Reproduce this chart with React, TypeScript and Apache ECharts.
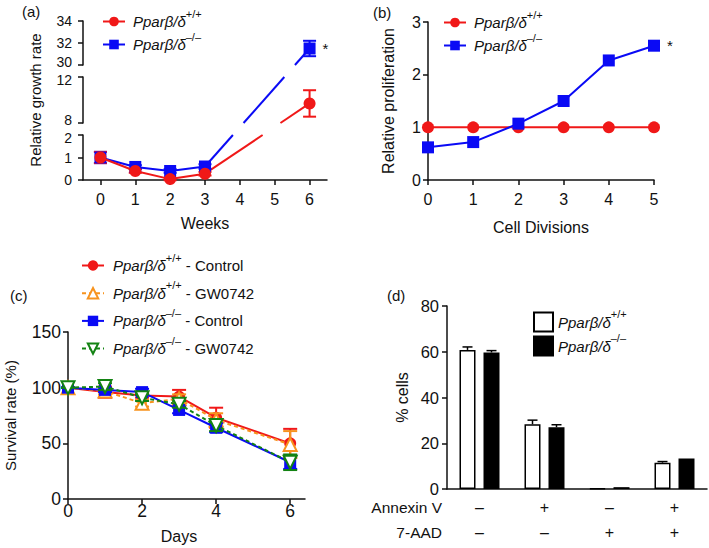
import React, { useEffect, useRef } from 'react';
import * as echarts from 'echarts';

// ---------- data ----------
// (a) relative growth rate, broken y axis
const weeksA = [0, 1, 2, 3, 6];
const weekTicks = [0, 1, 2, 3, 4, 5, 6];
const growthWT = [1.0, 0.4, 0.04, 0.28, 9.7];
const growthWTErr = [0.25, 0.08, 0.05, 0.08, 1.15];
const growthKO = [1.0, 0.58, 0.4, 0.6, 31.5];
const growthKOErr = [0.25, 0.08, 0.08, 0.1, 0.7];
const segMin = [30, 8, 0];
const segMax = [34, 12, 2];
const segInterval = [2, 4, 1];
const starIndexA = 4;

// (b) relative proliferation
const divisions = [0, 1, 2, 3, 4, 5];
const prolifWT = [1, 1, 1, 1, 1, 1];
const prolifKO = [0.62, 0.72, 1.07, 1.5, 2.27, 2.55];
const starIndexB = 5;

// (c) survival rate
const days = [0, 1, 2, 3, 4, 6];
const dayTicks = [0, 2, 4, 6];
const survWTCtrl = [100, 96, 93, 92, 73, 50];
const survWTCtrlErr = [0, 5, 2, 6, 9, 13];
const survWTGW = [100, 97, 86, 90, 71, 49];
const survWTGWErr = [0, 3, 3, 4, 6, 12];
const survKOCtrl = [100, 98, 96, 80, 64, 33];
const survKOCtrlErr = [0, 2, 3, 3, 4, 6];
const survKOGW = [100, 101, 91, 85, 66, 33];
const survKOGWErr = [0, 3, 3, 3, 5, 7];

// (d) % cells
const annexinSigns = ['–', '+', '–', '+'];
const aadSigns = ['–', '–', '+', '+'];
const rowLabels = ['Annexin V', '7-AAD'];
const pctWT = [60.8, 28.3, 0.3, 11.5];
const pctWTErr = [1.3, 1.8, 0, 0.5];
const pctKO = [59.7, 27.0, 0.8, 13.3];
const pctKOErr = [0.8, 1.1, 0, 0];

const panelLabels = ['(a)', '(b)', '(c)', '(d)'];
const axisTitles = {
  a: 'Relative growth rate', ax: 'Weeks',
  b: 'Relative proliferation', bx: 'Cell Divisions',
  c: 'Survival rate (%)', cx: 'Days',
  d: '% cells',
};

// ---------- style ----------
const FONT = "'Liberation Sans', Arial, Helvetica, sans-serif";
const INK = '#111';
const RED = '#f01818';
const BLUE = '#0a0af5';
const ORANGE = '#f7931e';
const GREEN = '#138313';

const BAR_W = 16;
const BAR_GAP = 8;

const legendText: Record<string, string> = {
  wt: '{i|Pparβ/δ}{s|+/+}',
  ko: '{i|Pparβ/δ}{s|–/–}',
  wtC: '{i|Pparβ/δ}{s|+/+}{n| - Control}',
  wtG: '{i|Pparβ/δ}{s|+/+}{n| - GW0742}',
  koC: '{i|Pparβ/δ}{s|–/–}{n| - Control}',
  koG: '{i|Pparβ/δ}{s|–/–}{n| - GW0742}',
  wtB: '{i|Pparβ/δ}{s|+/+}',
  koB: '{i|Pparβ/δ}{s|–/–}',
};

const rich = {
  i: { fontFamily: FONT, fontStyle: 'italic', fontSize: 15, color: INK, lineHeight: 18 },
  s: { fontFamily: FONT, fontSize: 11, color: INK, lineHeight: 10, padding: [0, 0, 16, 0] },
  n: { fontFamily: FONT, fontSize: 15, color: INK, lineHeight: 18 },
};

function segOf(v: number) {
  for (let g = 0; g < segMin.length; g++) if (v >= segMin[g] && v <= segMax[g]) return g;
  return -1;
}

function makeErrRender(color: string, capW: number, lw: number, both: boolean, dx = 0) {
  return (_p: any, api: any) => {
    const x = api.value(0);
    const a = api.coord([x, api.value(1)]);
    const b = api.coord([x, api.value(2)]);
    const px = a[0] + dx;
    const style = { stroke: color, lineWidth: lw, fill: null };
    const children: any[] = [
      { type: 'line', shape: { x1: px, y1: a[1], x2: px, y2: b[1] }, style },
      { type: 'line', shape: { x1: px - capW / 2, y1: b[1], x2: px + capW / 2, y2: b[1] }, style },
    ];
    if (both) children.push({ type: 'line', shape: { x1: px - capW / 2, y1: a[1], x2: px + capW / 2, y2: a[1] }, style });
    return { type: 'group', children };
  };
}

const axLine = { show: true, onZero: false, lineStyle: { color: INK, width: 1.5 } };
const axTick = { show: true, inside: false, length: 5, lineStyle: { color: INK, width: 1.5 } };

function lab(size: number, margin: number, extra: any = {}) {
  return { color: INK, fontSize: size, fontFamily: FONT, margin, ...extra };
}
function nameStyle(size: number, extra: any = {}) {
  return { color: INK, fontSize: size, fontFamily: FONT, ...extra };
}

function legend(data: string[], left: number, top: number, itemGap: number, iw: number, ih: number, pad: number, extra: any = {}) {
  return {
    data, left, top, orient: 'vertical', itemGap, itemWidth: iw, itemHeight: ih,
    selectedMode: false, padding: 0,
    formatter: (n: string) => legendText[n],
    textStyle: { rich, padding: [0, 0, 0, pad], color: INK },
    ...extra,
  };
}

// broken-axis labels: nudge the segment-end labels apart so they do not collide
const segLabelRich = {
  lo: { fontFamily: FONT, fontSize: 14, color: INK, lineHeight: 10, padding: [0, 0, 6, 0] },
  hi: { fontFamily: FONT, fontSize: 14, color: INK, lineHeight: 10, padding: [6, 0, 0, 0] },
  m: { fontFamily: FONT, fontSize: 14, color: INK, lineHeight: 10 },
};

function buildOption() {
  const grid: any[] = [
    { left: 83, top: 21, width: 244, height: 44 },
    { left: 83, top: 77, width: 244, height: 46 },
    { left: 83, top: 135, width: 244, height: 45 },
    { left: 428, top: 22, width: 226, height: 158 },
    { left: 68, top: 332, width: 237, height: 167 },
    { left: 447, top: 306, width: 260, height: 183 },
  ].map((g) => ({ ...g, containLabel: false, outerBoundsMode: 'none' }));

  const xAxis: any[] = [];
  const yAxis: any[] = [];
  for (let g = 0; g < 3; g++) {
    xAxis.push({
      type: 'value', gridIndex: g, min: -0.5, max: 6.5, show: g === 2,
      axisLine: axLine, axisTick: { ...axTick, customValues: weekTicks },
      axisLabel: lab(16, 11, { customValues: weekTicks }), splitLine: { show: false },
      name: g === 2 ? axisTitles.ax : '', nameLocation: 'middle', nameGap: 35, nameMoveOverlap: false,
      nameTextStyle: nameStyle(16),
    });
    const hasBelow = g < 2;
    const hasAbove = g > 0;
    yAxis.push({
      type: 'value', gridIndex: g, min: segMin[g], max: segMax[g], interval: segInterval[g],
      axisLine: axLine, axisTick: axTick,
      axisLabel: lab(14, 11, {
        rich: segLabelRich,
        formatter: (v: number) => {
          if (v === segMin[g] && hasBelow) return `{lo|${v}}`;
          if (v === segMax[g] && hasAbove) return `{hi|${v}}`;
          return `{m|${v}}`;
        },
      }),
      splitLine: { show: false },
      name: g === 1 ? axisTitles.a : '', nameLocation: 'middle', nameGap: 40, nameMoveOverlap: false,
      nameTextStyle: nameStyle(15),
    });
  }
  // (b)
  xAxis.push({
    type: 'value', gridIndex: 3, min: 0, max: 5, interval: 1,
    axisLine: axLine, axisTick: axTick, axisLabel: lab(16, 11), splitLine: { show: false },
    name: axisTitles.bx, nameLocation: 'middle', nameGap: 39, nameMoveOverlap: false, nameTextStyle: nameStyle(16),
  });
  yAxis.push({
    type: 'value', gridIndex: 3, min: 0, max: 3, interval: 1,
    axisLine: axLine, axisTick: axTick, axisLabel: lab(16, 7), splitLine: { show: false },
    name: axisTitles.b, nameLocation: 'middle', nameGap: 32, nameMoveOverlap: false, nameTextStyle: nameStyle(16),
  });
  // (c)
  xAxis.push({
    type: 'value', gridIndex: 4, min: 0, max: 6.4,
    axisLine: axLine, axisTick: { ...axTick, customValues: dayTicks },
    axisLabel: lab(17.5, 3, { customValues: dayTicks }), splitLine: { show: false },
    name: axisTitles.cx, nameLocation: 'middle', nameGap: 29, nameMoveOverlap: false,
    nameTextStyle: nameStyle(16, { padding: [0, 15, 0, 0] }),
  });
  yAxis.push({
    type: 'value', gridIndex: 4, min: 0, max: 150, interval: 50,
    axisLine: axLine, axisTick: axTick, axisLabel: lab(17.5, 7), splitLine: { show: false },
    name: axisTitles.c, nameLocation: 'middle', nameGap: 50, nameMoveOverlap: false, nameTextStyle: nameStyle(15),
  });
  // (d)
  xAxis.push({
    type: 'category', gridIndex: 5, data: annexinSigns.map((a, i) => a + '\n' + aadSigns[i]),
    axisLine: axLine, axisTick: { show: false }, axisLabel: lab(16, 6, { lineHeight: 25 }), splitLine: { show: false },
  });
  yAxis.push({
    type: 'value', gridIndex: 5, min: 0, max: 80, interval: 20,
    axisLine: axLine, axisTick: axTick, axisLabel: lab(16.5, 8), splitLine: { show: false },
    name: axisTitles.d, nameLocation: 'middle', nameGap: 37, nameMoveOverlap: false, nameTextStyle: nameStyle(16),
  });

  const series: any[] = [];
  // (a) errors first
  for (let g = 0; g < 3; g++) {
    const mk = (vals: number[], errs: number[]) =>
      weeksA.map((w, i) => [w, vals[i] - errs[i], vals[i] + errs[i], vals[i]]).filter((d) => segOf(d[3]) === g);
    series.push({ type: 'custom', name: 'errAko' + g, xAxisIndex: g, yAxisIndex: g, renderItem: makeErrRender(BLUE, 13, 2, true), data: mk(growthKO, growthKOErr), encode: { x: 0, y: [1, 2] }, z: 2 });
    series.push({ type: 'custom', name: 'errAwt' + g, xAxisIndex: g, yAxisIndex: g, renderItem: makeErrRender(RED, 13, 2, true), data: mk(growthWT, growthWTErr), encode: { x: 0, y: [1, 2] }, z: 2 });
  }
  for (let g = 0; g < 3; g++) {
    const mk = (vals: number[], star: boolean) =>
      weeksA.map((w, i) => {
        if (segOf(vals[i]) !== g) return [w, '-'];
        if (star && i === starIndexA)
          return { value: [w, vals[i]], label: { show: true, formatter: '*', position: 'right', distance: 7, color: INK, fontSize: 15, fontFamily: FONT } };
        return [w, vals[i]];
      });
    series.push({
      type: 'line', name: 'ko', xAxisIndex: g, yAxisIndex: g, data: mk(growthKO, true),
      symbol: 'rect', symbolSize: 12, showAllSymbol: true, connectNulls: false,
      itemStyle: { color: BLUE }, lineStyle: { color: BLUE, width: 2 }, z: 3,
    });
    series.push({
      type: 'line', name: 'wt', xAxisIndex: g, yAxisIndex: g, data: mk(growthWT, false),
      symbol: 'circle', symbolSize: 12, showAllSymbol: true, connectNulls: false,
      itemStyle: { color: RED }, lineStyle: { color: RED, width: 2 }, z: 4,
    });
  }
  // (b)
  series.push({
    type: 'line', name: 'wt', xAxisIndex: 3, yAxisIndex: 3, data: divisions.map((d, i) => [d, prolifWT[i]]),
    symbol: 'circle', symbolSize: 12, itemStyle: { color: RED }, lineStyle: { color: RED, width: 2 }, z: 3,
  });
  series.push({
    type: 'line', name: 'ko', xAxisIndex: 3, yAxisIndex: 3,
    data: divisions.map((d, i) =>
      i === starIndexB
        ? { value: [d, prolifKO[i]], label: { show: true, formatter: '*', position: 'right', distance: 7, color: INK, fontSize: 15, fontFamily: FONT } }
        : [d, prolifKO[i]]),
    symbol: 'rect', symbolSize: 12, itemStyle: { color: BLUE }, lineStyle: { color: BLUE, width: 2 }, z: 4,
  });
  // (c)
  const cSets = [
    { name: 'wtC', vals: survWTCtrl, errs: survWTCtrlErr, color: RED, symbol: 'circle', rot: 0, open: false, dash: false, size: 12 },
    { name: 'wtG', vals: survWTGW, errs: survWTGWErr, color: ORANGE, symbol: 'triangle', rot: 0, open: true, dash: true, size: 13 },
    { name: 'koC', vals: survKOCtrl, errs: survKOCtrlErr, color: BLUE, symbol: 'rect', rot: 0, open: false, dash: false, size: 12 },
    { name: 'koG', vals: survKOGW, errs: survKOGWErr, color: GREEN, symbol: 'triangle', rot: 180, open: true, dash: true, size: 13 },
  ];
  cSets.forEach((s, k) => {
    series.push({
      type: 'custom', name: 'errC' + s.name, xAxisIndex: 4, yAxisIndex: 4, renderItem: makeErrRender(s.color, 14, 2, true),
      data: days.map((d, i) => [d, s.vals[i] - s.errs[i], s.vals[i] + s.errs[i]]), encode: { x: 0, y: [1, 2] }, z: 2 + k * 2,
    });
    series.push({
      type: 'line', name: s.name, xAxisIndex: 4, yAxisIndex: 4, data: days.map((d, i) => [d, s.vals[i]]),
      symbol: s.symbol, symbolRotate: s.rot, symbolSize: s.size,
      itemStyle: s.open ? { color: '#fff', borderColor: s.color, borderWidth: 2 } : { color: s.color },
      lineStyle: { color: s.color, width: 2, type: s.dash ? [4, 3] : 'solid' }, z: 3 + k * 2,
    });
  });
  // (d)
  series.push({
    type: 'bar', name: 'wtB', xAxisIndex: 5, yAxisIndex: 5, data: pctWT, barWidth: BAR_W, barGap: (BAR_GAP / BAR_W) * 100 + '%',
    itemStyle: { color: '#fff', borderColor: '#000', borderWidth: 1.5 },
  });
  series.push({
    type: 'bar', name: 'koB', xAxisIndex: 5, yAxisIndex: 5, data: pctKO, barWidth: BAR_W, barGap: (BAR_GAP / BAR_W) * 100 + '%',
    itemStyle: { color: '#000', borderColor: '#000', borderWidth: 1.5 },
  });
  const off = (BAR_W + BAR_GAP) / 2;
  series.push({
    type: 'custom', name: 'errDwt', xAxisIndex: 5, yAxisIndex: 5, renderItem: makeErrRender('#000', 10, 1.5, false, -off),
    data: pctWT.map((v, i) => [i, v, v + pctWTErr[i]]).filter((d) => d[2] > d[1]), encode: { x: 0, y: [1, 2] }, z: 5,
  });
  series.push({
    type: 'custom', name: 'errDko', xAxisIndex: 5, yAxisIndex: 5, renderItem: makeErrRender('#000', 10, 1.5, false, off),
    data: pctKO.map((v, i) => [i, v, v + pctKOErr[i]]).filter((d) => d[2] > d[1]), encode: { x: 0, y: [1, 2] }, z: 5,
  });

  return {
    animation: false,
    backgroundColor: '#fff',
    textStyle: { fontFamily: FONT },
    grid, xAxis, yAxis, series,
    legend: [
      legend(['wt', 'ko'], 102, 8, -4, 22, 12, 3),
      legend(['wt', 'ko'], 443, 9, -4, 22, 12, 3),
      legend(['wtC', 'wtG', 'koC', 'koG'], 81, 252, 0.7, 22, 13, 4),
      legend(['wtB', 'koB'], 533, 308.5, -3, 19, 19, 0, { icon: 'rect' }),
    ],
    graphic: baseGraphics(),
  };
}

function txt(id: string, text: string, x: number, y: number, size: number, align = 'left') {
  return {
    id, type: 'text', x, y,
    style: { text, fontSize: size, fontFamily: FONT, fill: INK, align, textAlign: align, verticalAlign: 'middle', textVerticalAlign: 'middle' },
  };
}

function baseGraphics() {
  return [
    txt('pa', panelLabels[0], 22, 11, 15),
    txt('pb', panelLabels[1], 373, 12, 15),
    txt('pc', panelLabels[2], 10, 295, 15),
    txt('pd', panelLabels[3], 387, 295, 15),
    txt('r0', rowLabels[0], 442, 507, 15.5, 'right'),
    txt('r1', rowLabels[1], 442, 532, 15.5, 'right'),
  ];
}

function buildConnectors(chart: any) {
  const out: any[] = [];
  const yRange = (g: number) => {
    const t = chart.convertToPixel({ gridIndex: g }, [0, segMax[g]])[1];
    const b = chart.convertToPixel({ gridIndex: g }, [0, segMin[g]])[1];
    return [Math.min(t, b), Math.max(t, b)];
  };
  const sets: [number[], string][] = [[growthWT, RED], [growthKO, BLUE]];
  sets.forEach(([vals, color], si) => {
    for (let i = 0; i < vals.length - 1; i++) {
      const g1 = segOf(vals[i]);
      const g2 = segOf(vals[i + 1]);
      if (g1 === g2 || g1 < 0 || g2 < 0) continue;
      const A = chart.convertToPixel({ gridIndex: g1 }, [weeksA[i], vals[i]]);
      const B = chart.convertToPixel({ gridIndex: g2 }, [weeksA[i + 1], vals[i + 1]]);
      const gs = [];
      for (let g = Math.min(g1, g2); g <= Math.max(g1, g2); g++) gs.push(g);
      gs.forEach((g) => {
        const [y1, y2] = yRange(g);
        const lo = Math.max(Math.min(A[1], B[1]), y1);
        const hi = Math.min(Math.max(A[1], B[1]), y2);
        if (hi <= lo) return;
        const xAt = (y: number) => A[0] + ((B[0] - A[0]) * (y - A[1])) / (B[1] - A[1]);
        out.push({
          id: `c${si}_${i}_${g}`, type: 'line', z: 1,
          shape: { x1: xAt(lo), y1: lo, x2: xAt(hi), y2: hi },
          style: { stroke: color, lineWidth: 2 },
        });
      });
    }
  });
  return out;
}

export default function App() {
  const ref = useRef<HTMLDivElement>(null);
  useEffect(() => {
    const chart = echarts.init(ref.current as HTMLDivElement, null, { renderer: 'svg', width: 709, height: 548 });
    chart.setOption(buildOption() as any);
    const conns = buildConnectors(chart);
    chart.setOption({ graphic: [...baseGraphics(), ...conns] } as any);
    return () => chart.dispose();
  }, []);
  return <div ref={ref} style={{ position: 'absolute', left: 0, top: 0, width: 709, height: 548, background: '#fff' }} />;
}
